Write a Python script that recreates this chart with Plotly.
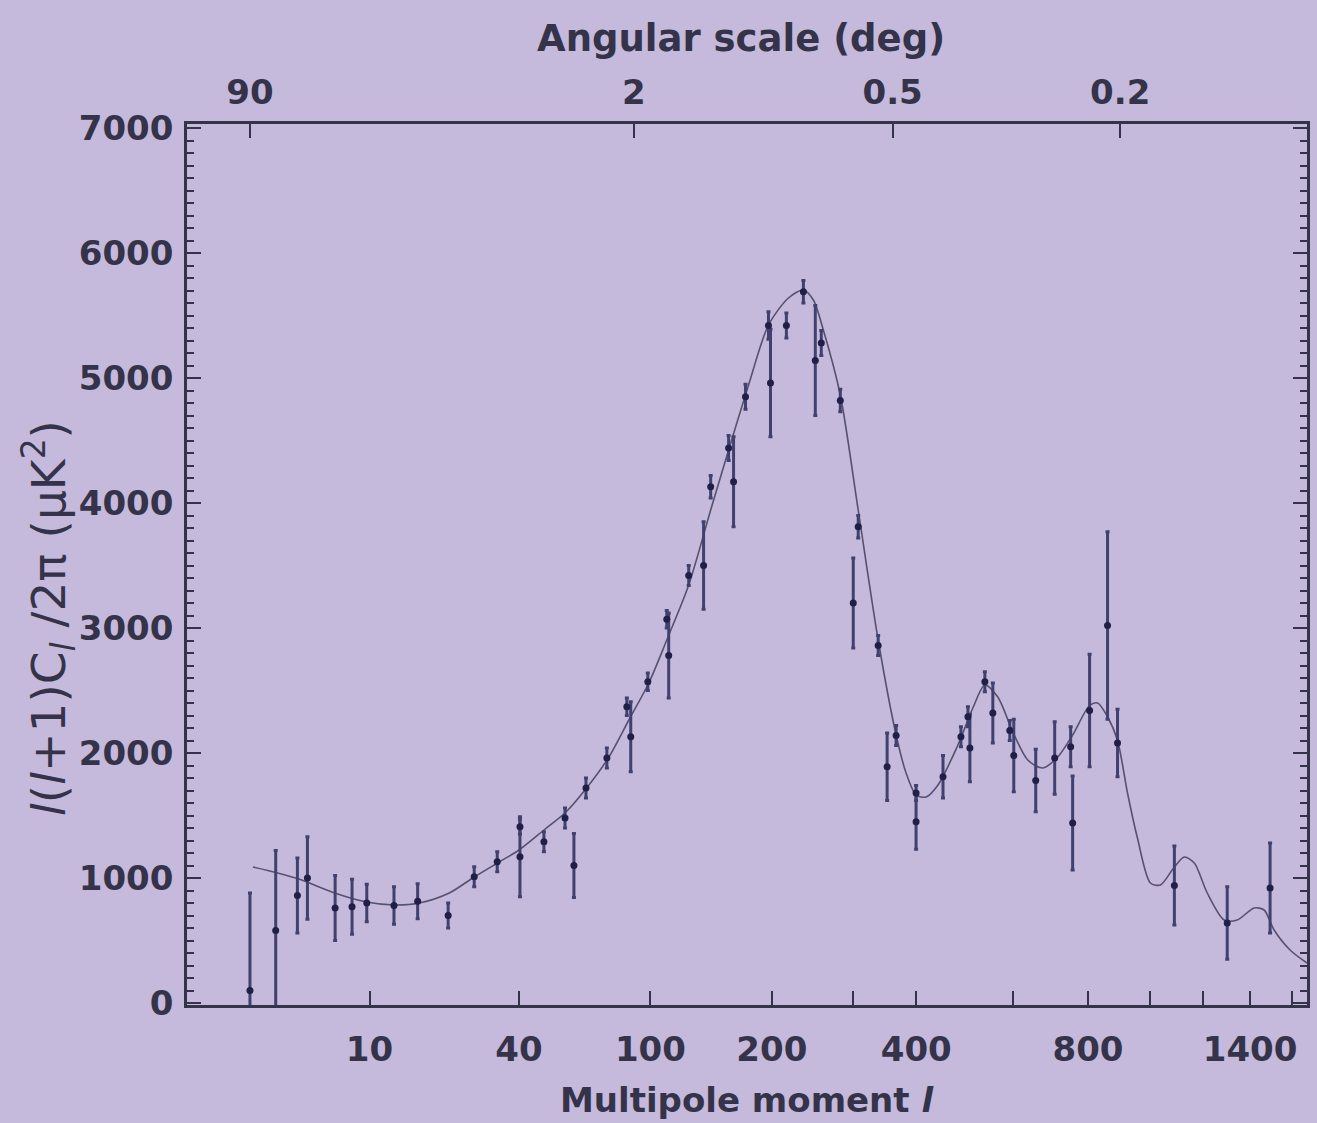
import plotly.graph_objects as go

# ---------------- data ----------------
data_l = [2, 3, 4.1, 4.7, 6.7, 8.2, 9.7, 13, 16.5, 22, 27.7, 33.6, 40.3, 40.3, 48.4,
          56.5, 60.2, 65.5, 75.5, 86.1, 88.3, 98.4, 110.6, 111.9, 126.1, 137.5, 143.2,
          158.4, 162.8, 173.8, 196.5, 198.6, 215.7, 235.2, 249.6, 257.1, 282, 300, 307.1,
          337, 351.1, 365.7, 399.7, 399.7, 449.3, 484.8, 499.2, 503.3, 535.4, 553.1,
          592.2, 601.7, 656, 705.8, 749.9, 755.5, 804.8, 859.6, 891.3, 1088.6, 1299.8, 1492.6]
data_v = [100, 580, 860, 1000, 760, 770, 800, 780, 815, 700, 1010, 1130, 1410, 1170, 1290,
          1480, 1100, 1720, 1960, 2370, 2130, 2570, 3070, 2780, 3420, 3500, 4130,
          4440, 4170, 4850, 5420, 4960, 5420, 5690, 5140, 5280, 4820, 3200, 3810,
          2860, 1890, 2140, 1680, 1450, 1810, 2130, 2290, 2040, 2570, 2320,
          2180, 1980, 1780, 1960, 2050, 1440, 2340, 3020, 2080, 940, 640, 920]
data_err = [780, 640, 300, 330, 260, 220, 150, 150, 140, 100, 80, 80, 60, 320, 80,
            80, 256, 80, 80, 70, 280, 70, 70, 340, 80, 350, 90,
            100, 360, 100, 110, 430, 100, 90, 440, 100, 90, 360, 90,
            80, 270, 80, 60, 220, 170, 80, 80, 270, 80, 240,
            80, 290, 250, 290, 160, 376, 450, 750, 270, 316, 290, 360]

curve_l = [2.1, 3.09, 4.35, 6.66, 9.67, 13.06, 16.78, 22.23, 27.71, 34.13, 40.03, 48.44,
           56.88, 66.85, 76.53, 87.22, 99.0, 110.6, 126.1, 143.2, 158.4, 176.7, 196.5,
           218.0, 235.2, 247.2, 259.7, 282.0, 307.1, 337.0, 365.7, 382.4, 399.7, 417.5,
           439.8, 478.7, 509.6, 535.4, 564.4, 599.4, 635.9, 674.0, 713.9, 755.5, 804.8,
           828.8, 859.7, 891.3, 923.8, 957.1, 1001.8, 1037.3, 1088.6, 1126.3, 1165.0,
           1216.8, 1287.1, 1342.9, 1418.6, 1464.5, 1511.7, 1589.4, 1675.0]
curve_v = [1088, 1040, 984, 880, 808, 784, 800, 880, 1008, 1128, 1224, 1384,
           1528, 1744, 1968, 2264, 2560, 2904, 3344, 3944, 4424, 4944, 5424,
           5640, 5704, 5624, 5384, 4864, 3944, 2904, 2144, 1840, 1664, 1648,
           1744, 2064, 2360, 2544, 2448, 2168, 1944, 1880, 1968, 2144, 2380,
           2400, 2290, 2100, 1680, 1320, 960, 944, 1088, 1168, 1120,
           880, 664, 664, 760, 744, 584, 424, 320]

bottom_label_l = [10, 40, 100, 200, 400, 800, 1400]
bottom_label_text = ["10", "40", "100", "200", "400", "800", "1400"]
bottom_plain_l = [300, 600, 1000, 1200, 1600]
top_tick_deg = [90, 2, 0.5, 0.2]
top_tick_text = ["90", "2", "0.5", "0.2"]
y_ticks = [0, 1000, 2000, 3000, 4000, 5000, 6000, 7000]

# ---------------- axis transform (l^0.25 scale) ----------------
P = 0.25
def tr(vals):
    return [v ** P for v in vals]

BG = "#c5badb"
INK = "#34334a"
PT = "#1f1f48"
ERR = "#414170"
CURVE = "#56516e"
FONT = "DejaVu Sans"
TICKFONT = dict(size=34, color=INK, family=FONT, weight="bold")

fig = go.Figure()
fig.add_trace(go.Scatter(
    x=tr(curve_l), y=curve_v, mode="lines",
    line=dict(color=CURVE, width=1.6, shape="spline", smoothing=0.8),
    hoverinfo="skip", showlegend=False))
fig.add_trace(go.Scatter(
    x=tr(data_l), y=data_v, mode="markers",
    marker=dict(color=PT, size=7),
    error_y=dict(type="data", array=data_err, visible=True, color=ERR,
                 thickness=3, width=2),
    showlegend=False))
# invisible trace to activate top axis
top_l = [180.0 / d for d in top_tick_deg]
fig.add_trace(go.Scatter(x=tr(top_l), y=[3000] * 4, xaxis="x2", mode="markers",
                         marker=dict(opacity=0), hoverinfo="skip", showlegend=False))

xr = [0.879, 6.3975]
fig.update_layout(
    width=1317, height=1123,
    margin=dict(l=187, r=7, t=124, b=118),
    paper_bgcolor=BG, plot_bgcolor=BG,
    font=dict(family=FONT, color=INK, size=34),
    xaxis=dict(range=xr, tickvals=tr(bottom_label_l), ticktext=bottom_label_text,
               ticks="inside", ticklen=14, tickwidth=2, tickcolor=INK,
               minor=dict(tickvals=tr(bottom_plain_l), ticks="inside", ticklen=14,
                          tickwidth=2, tickcolor=INK),
               showline=True, linecolor=INK, linewidth=2.5, mirror=True,
               showgrid=False, zeroline=False, ticklabelstandoff=12,
               tickfont=TICKFONT),
    xaxis2=dict(range=xr, overlaying="x", side="top", anchor="y",
                tickvals=tr(top_l), ticktext=top_tick_text,
                ticks="inside", ticklen=14, tickwidth=2, tickcolor=INK,
                showgrid=False, zeroline=False, ticklabelstandoff=12,
                tickfont=TICKFONT),
    yaxis=dict(range=[-16, 7032], tickvals=y_ticks,
               ticks="inside", ticklen=14, tickwidth=2, tickcolor=INK,
               minor=dict(dtick=100, tick0=0, ticks="inside", ticklen=7,
                          tickwidth=1.5, tickcolor=INK),
               showline=True, linecolor=INK, linewidth=2.5, mirror="ticks",
               showgrid=False, zeroline=False, ticklabelstandoff=4,
               tickfont=TICKFONT),
)

# annotations placed in pixel terms
plot_w = 1317 - 187 - 7
plot_h = 1123 - 124 - 118
def px_to_paper_x(px):
    return (px - 187) / plot_w
def px_to_paper_y(py):
    return (1123 - 118 - py) / plot_h

fig.add_annotation(text="Angular scale (deg)", xref="paper", yref="paper",
                   x=px_to_paper_x(742), y=px_to_paper_y(38),
                   xanchor="center", yanchor="middle", showarrow=False,
                   font=dict(size=37, color=INK, family=FONT, weight="bold"))
fig.add_annotation(text="Multipole moment <i>l</i>", xref="paper", yref="paper",
                   x=px_to_paper_x(748), y=px_to_paper_y(1100),
                   xanchor="center", yanchor="middle", showarrow=False,
                   font=dict(size=34, color=INK, family=FONT, weight="bold"))
fig.add_annotation(text="<i>l</i>(<i>l</i>+1)C<sub><i>l</i></sub> /2π (μK<sup>2</sup>)",
                   xref="paper", yref="paper",
                   x=px_to_paper_x(48), y=px_to_paper_y(618), textangle=-90,
                   xanchor="center", yanchor="middle", showarrow=False,
                   font=dict(size=47, color=INK, family=FONT))

fig.write_html("out.html")
